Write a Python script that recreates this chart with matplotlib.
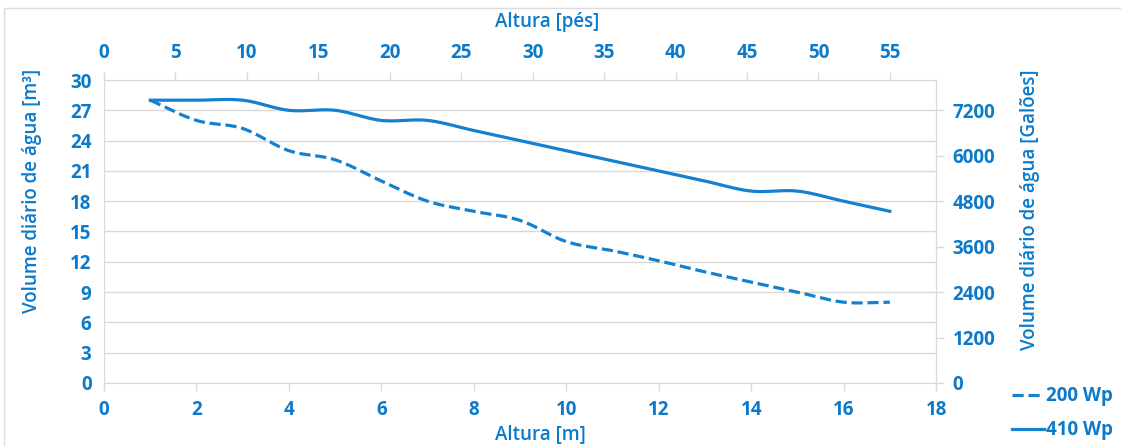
import numpy as np
import matplotlib.pyplot as plt
from matplotlib.patches import Rectangle

# alturas em metros e volumes diarios (m3)
altura_m = [1, 2, 3, 4, 5, 6, 7, 8, 9, 10, 11, 12, 13, 14, 15, 16, 17]
vol_200 = [28, 26, 25.2, 23, 22.1, 20, 18, 17, 16.1, 14, 13.1, 12.1, 11, 10, 9, 8, 8]
vol_410 = [28, 28, 28, 27, 27, 26, 26, 25, 24, 23, 22, 21, 20, 19, 19, 18, 17]

y_ticks = [0, 3, 6, 9, 12, 15, 18, 21, 24, 27, 30]
x_ticks = [0, 2, 4, 6, 8, 10, 12, 14, 16, 18]
ft_ticks = [0, 5, 10, 15, 20, 25, 30, 35, 40, 45, 50, 55]
gal_ticks = [0, 1200, 2400, 3600, 4800, 6000, 7200]

# escalas secundarias como no grafico original
FT_POR_M = 55 / 17
GAL_POR_M3 = 8000 / 30

BLUE = '#1380d0'
TXT = '#0c7acb'
GRID = '#d9d9d9'

plt.rcParams['font.family'] = ['Open Sans', 'DejaVu Sans']


def smooth(x, y, n=24):
    # curva suave tipo excel (catmull-rom)
    x = np.asarray(x, float)
    y = np.asarray(y, float)
    px = np.concatenate([[2 * x[0] - x[1]], x, [2 * x[-1] - x[-2]]])
    py = np.concatenate([[2 * y[0] - y[1]], y, [2 * y[-1] - y[-2]]])
    xs, ys = [], []
    t = np.linspace(0, 1, n, endpoint=False)
    for i in range(1, len(px) - 2):
        for arr, out in ((px, xs), (py, ys)):
            p0, p1, p2, p3 = arr[i - 1], arr[i], arr[i + 1], arr[i + 2]
            out.extend(0.5 * ((2 * p1) + (-p0 + p2) * t
                              + (2 * p0 - 5 * p1 + 4 * p2 - p3) * t ** 2
                              + (-p0 + 3 * p1 - 3 * p2 + p3) * t ** 3))
    xs.append(x[-1])
    ys.append(y[-1])
    return np.array(xs), np.array(ys)


fig = plt.figure(figsize=(11.21, 4.46), dpi=100)
fig.patches.append(Rectangle((0.0036, -0.02), 1.1, 1.002, transform=fig.transFigure,
                             fill=False, edgecolor='#dcdcdc', linewidth=1))
ax = fig.add_axes([0.0928, 0.1413, 0.7422, 0.6793])

sx, sy = smooth(altura_m, vol_200)
ax.plot(sx, sy, color=BLUE, lw=2.3, dashes=(3.5, 1.5), label='200 Wp')
sx, sy = smooth(altura_m, vol_410)
ax.plot(sx, sy, color=BLUE, lw=2.3, label='410 Wp')

ax.set_xlim(0, 18)
ax.set_ylim(0, 30)
ax.set_xticks(x_ticks)
ax.set_yticks(y_ticks)
ax.grid(axis='y', color=GRID, lw=1)
ax.set_axisbelow(True)
for s in ax.spines.values():
    s.set_color(GRID)
ax.spines['top'].set_visible(False)
ax.tick_params(axis='x', colors=GRID, length=6, width=1, labelcolor=TXT, labelsize=13.5, pad=6)
ax.tick_params(axis='y', length=0, labelcolor=TXT, labelsize=13.5, pad=9)
for lab in ax.get_xticklabels() + ax.get_yticklabels():
    lab.set_fontweight('bold')

top = ax.secondary_xaxis('top', functions=(lambda m: m * FT_POR_M, lambda f: f / FT_POR_M))
top.set_xticks(ft_ticks)
top.spines['top'].set_color(GRID)
top.tick_params(colors=GRID, length=6, width=1, labelcolor=TXT, labelsize=13.5, pad=6)
for lab in top.get_xticklabels():
    lab.set_fontweight('bold')

right = ax.secondary_yaxis('right', functions=(lambda v: v * GAL_POR_M3, lambda g: g / GAL_POR_M3))
right.set_yticks(gal_ticks)
right.spines['right'].set_color(GRID)
right.tick_params(colors=GRID, length=6, width=1, labelcolor=TXT, labelsize=13.5, pad=6)
for lab in right.get_yticklabels():
    lab.set_fontweight('bold')

# titulos dos eixos (posicoes como no original, fora do centro)
lab_kw = dict(color=TXT, fontsize=13.5, fontweight='semibold', ha='center', va='center')
fig.text(0.488, 0.951, 'Altura [pés]', **lab_kw)
fig.text(0.482, 0.026, 'Altura [m]', **lab_kw)
fig.text(0.0285, 0.572, 'Volume diário de água [m³]', rotation=90, **lab_kw)
fig.text(0.9188, 0.529, 'Volume diário de água [Galões]', rotation=90, **lab_kw)

leg = fig.legend(loc='lower right', bbox_to_anchor=(1.008, -0.025), frameon=False,
                 handlelength=1.7, handletextpad=0.1, labelspacing=0.75,
                 prop={'size': 13.5, 'weight': 'bold'})
for t in leg.get_texts():
    t.set_color(TXT)

fig.savefig('out.png', dpi=100)
